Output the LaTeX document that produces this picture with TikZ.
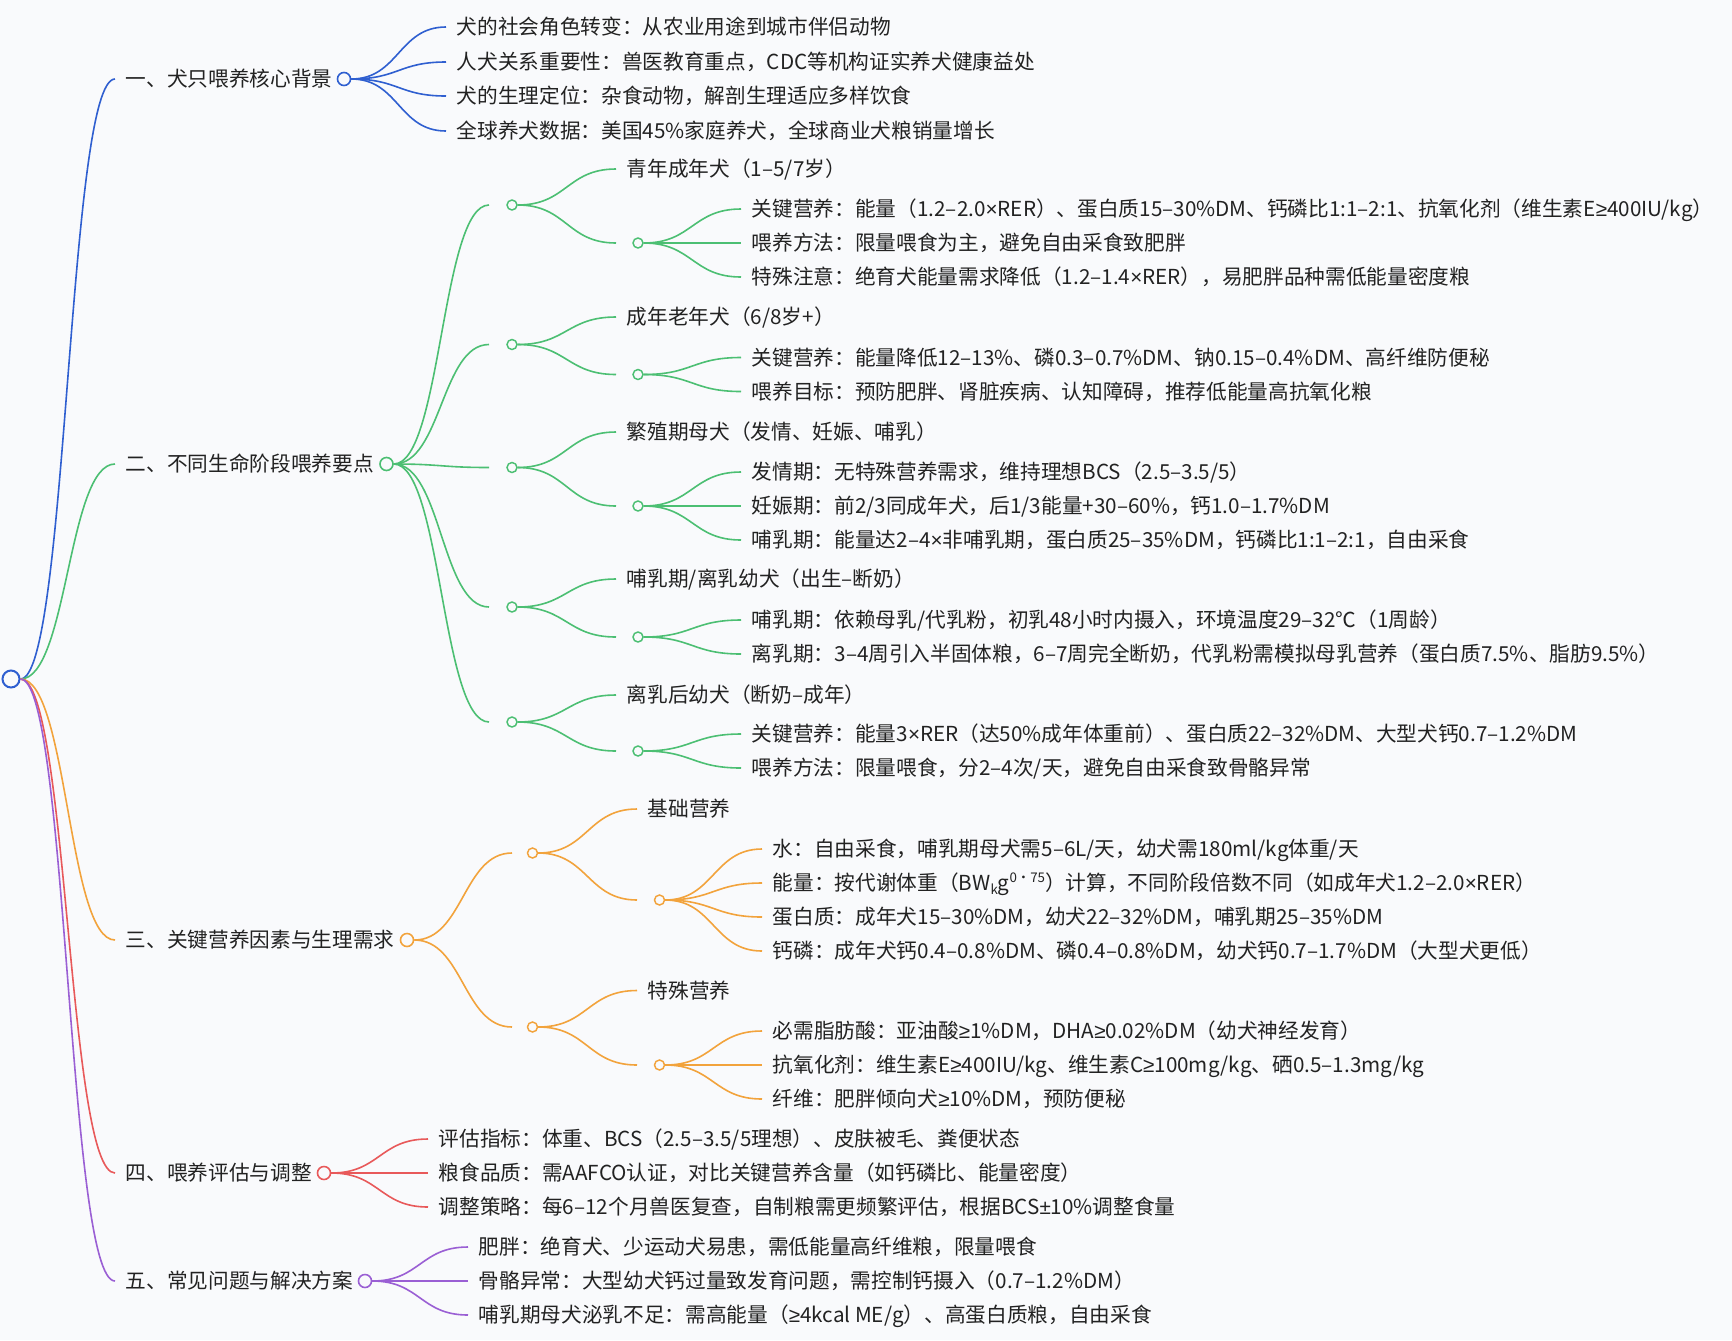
\documentclass[tikz,border=0pt]{standalone}
\usepackage{fontspec}
\setmainfont{Noto Sans CJK SC}
\newfontfamily\latf{Liberation Sans}
\usetikzlibrary{calc}
\definecolor{bgc}{HTML}{F9FAFC}
\definecolor{txc}{HTML}{222222}
\definecolor{cA}{HTML}{2F5FD0}
\definecolor{cB}{HTML}{4CBF73}
\definecolor{cC}{HTML}{F2A33C}
\definecolor{cD}{HTML}{E8595A}
\definecolor{cE}{HTML}{9A5FD4}
\newcommand\mmedge[3]{\draw[#1] let \p1=(#2), \p2=(#3), \p3=($(\p1)!0.5!(\p2)$) in (\p1) .. controls (\x3,\y1) and (\x3,\y2) .. (\p2);}
\newcommand\sml[1]{{\fontsize{10}{10}\selectfont #1}}
\newcommand\tms{{\latf ×}}
\newcommand\gee{{\latf ≥}}
\begin{document}
\begin{tikzpicture}[x=0.75pt,y=-0.75pt,
  lbl/.style={anchor=west, inner xsep=8pt, inner ysep=0pt, text=txc,
    font=\fontsize{15.5}{18}\selectfont, text height=13.6pt, text depth=1.9pt},
  rootdot/.style={circle, draw=cA, fill=bgc, line width=1.5pt, inner sep=0pt, minimum size=12.75pt},
  mdot/.style={circle, draw=#1, fill=bgc, line width=1.2pt, inner sep=0pt, minimum size=9.75pt},
  sdot/.style={circle, draw=#1, fill=bgc, line width=1.1pt, inner sep=0pt, minimum size=7.5pt},
  ln/.style={draw=#1, line width=1.2pt},
]
\useasboundingbox[fill=bgc] (0,0) rectangle (1732,1340);

\node[rootdot] (R) at (11,679) {};

% ---------- level 1 ----------
\node[lbl] (A) at (115,79) {一、犬只喂养核心背景};
\node[mdot=cA] (Ac) at (344,79) {};
\node[lbl] (B) at (115,464) {二、不同生命阶段喂养要点};
\node[mdot=cB] (Bc) at (386.5,464) {};
\node[lbl] (C) at (115,940) {三、关键营养因素与生理需求};
\node[mdot=cC] (Cc) at (407,940) {};
\node[lbl] (D) at (115,1173) {四、喂养评估与调整};
\node[mdot=cD] (Dc) at (324,1173) {};
\node[lbl] (E) at (115,1281) {五、常见问题与解决方案};
\node[mdot=cE] (Ec) at (365,1281) {};

% ---------- A leaves ----------
\node[lbl] (A1) at (446,27) {犬的社会角色转变：从农业用途到城市伴侣动物};
\node[lbl] (A2) at (446,62) {人犬关系重要性：兽医教育重点，CDC等机构证实养犬健康益处};
\node[lbl] (A3) at (446,96) {犬的生理定位：杂食动物，解剖生理适应多样饮食};
\node[lbl] (A4) at (446,131) {全球养犬数据：美国45\%家庭养犬，全球商业犬粮销量增长};

% ---------- B stages ----------
\coordinate (S1in) at (489,205); \node[sdot=cB] (S1) at (512,205) {};
\node[lbl] (S1t) at (616,169) {青年成年犬（1–5/7岁）};
\coordinate (S1sin) at (616,243); \node[sdot=cB] (S1s) at (638,243) {};
\node[lbl] (S1a) at (741,209) {关键营养：能量（1.2–2.0\tms RER）、蛋白质15–30\%DM、钙磷比1:1–2:1、抗氧化剂（维生素E\gee 400IU/kg）};
\node[lbl] (S1b) at (741,243) {喂养方法：限量喂食为主，避免自由采食致肥胖};
\node[lbl] (S1c) at (741,277) {特殊注意：绝育犬能量需求降低（1.2–1.4\tms RER），易肥胖品种需低能量密度粮};

\coordinate (S2in) at (489,344.5); \node[sdot=cB] (S2) at (512,344.5) {};
\node[lbl] (S2t) at (616,317) {成年老年犬（6/8岁+）};
\coordinate (S2sin) at (616,374.5); \node[sdot=cB] (S2s) at (638,374.5) {};
\node[lbl] (S2a) at (741,357.5) {关键营养：能量降低12–13\%、磷0.3–0.7\%DM、钠0.15–0.4\%DM、高纤维防便秘};
\node[lbl] (S2b) at (741,391.5) {喂养目标：预防肥胖、肾脏疾病、认知障碍，推荐低能量高抗氧化粮};

\coordinate (S3in) at (489,467.5); \node[sdot=cB] (S3) at (512,467.5) {};
\node[lbl] (S3t) at (616,432) {繁殖期母犬（发情、妊娠、哺乳）};
\coordinate (S3sin) at (616,506); \node[sdot=cB] (S3s) at (638,506) {};
\node[lbl] (S3a) at (741,472) {发情期：无特殊营养需求，维持理想BCS（2.5–3.5/5）};
\node[lbl] (S3b) at (741,506) {妊娠期：前2/3同成年犬，后1/3能量+30–60\%，钙1.0–1.7\%DM};
\node[lbl] (S3c) at (741,540) {哺乳期：能量达2–4\tms 非哺乳期，蛋白质25–35\%DM，钙磷比1:1–2:1，自由采食};

\coordinate (S4in) at (489,607); \node[sdot=cB] (S4) at (512,607) {};
\node[lbl] (S4t) at (616,579) {哺乳期/离乳幼犬（出生–断奶）};
\coordinate (S4sin) at (616,637); \node[sdot=cB] (S4s) at (638,637) {};
\node[lbl] (S4a) at (741,620) {哺乳期：依赖母乳/代乳粉，初乳48小时内摄入，环境温度29–32℃（1周龄）};
\node[lbl] (S4b) at (741,654) {离乳期：3–4周引入半固体粮，6–7周完全断奶，代乳粉需模拟母乳营养（蛋白质7.5\%、脂肪9.5\%）};

\coordinate (S5in) at (489,722); \node[sdot=cB] (S5) at (512,722) {};
\node[lbl] (S5t) at (616,695) {离乳后幼犬（断奶–成年）};
\coordinate (S5sin) at (616,751); \node[sdot=cB] (S5s) at (638,751) {};
\node[lbl] (S5a) at (741,734) {关键营养：能量3\tms RER（达50\%成年体重前）、蛋白质22–32\%DM、大型犬钙0.7–1.2\%DM};
\node[lbl] (S5b) at (741,768) {喂养方法：限量喂食，分2–4次/天，避免自由采食致骨骼异常};

% ---------- C groups ----------
\coordinate (G1in) at (512,853); \node[sdot=cC] (G1) at (532.5,853) {};
\node[lbl] (G1t) at (637,809) {基础营养};
\coordinate (G1sin) at (637,900); \node[sdot=cC] (G1s) at (659.5,900) {};
\node[lbl] (G1a) at (762,849) {水：自由采食，哺乳期母犬需5–6L/天，幼犬需180ml/kg体重/天};
\node[lbl] (G1b) at (762,883) {能量：按代谢体重（BW\raisebox{-0.3ex}{\sml{k}}g\raisebox{0.75ex}{\sml{0·75}}）计算，不同阶段倍数不同（如成年犬1.2–2.0\tms RER）};
\node[lbl] (G1c) at (762,917) {蛋白质：成年犬15–30\%DM，幼犬22–32\%DM，哺乳期25–35\%DM};
\node[lbl] (G1d) at (762,951) {钙磷：成年犬钙0.4–0.8\%DM、磷0.4–0.8\%DM，幼犬钙0.7–1.7\%DM（大型犬更低）};

\coordinate (G2in) at (512,1027); \node[sdot=cC] (G2) at (532.5,1027) {};
\node[lbl] (G2t) at (637,990.5) {特殊营养};
\coordinate (G2sin) at (637,1065); \node[sdot=cC] (G2s) at (659.5,1065) {};
\node[lbl] (G2a) at (762,1031) {必需脂肪酸：亚油酸\gee 1\%DM，DHA\gee 0.02\%DM（幼犬神经发育）};
\node[lbl] (G2b) at (762,1065) {抗氧化剂：维生素E\gee 400IU/kg、维生素C\gee 100mg/kg、硒0.5–1.3mg/kg};
\node[lbl] (G2c) at (762,1099) {纤维：肥胖倾向犬\gee 10\%DM，预防便秘};

% ---------- D leaves ----------
\node[lbl] (D1) at (428,1139) {评估指标：体重、BCS（2.5–3.5/5理想）、皮肤被毛、粪便状态};
\node[lbl] (D2) at (428,1173) {粮食品质：需AAFCO认证，对比关键营养含量（如钙磷比、能量密度）};
\node[lbl] (D3) at (428,1207) {调整策略：每6–12个月兽医复查，自制粮需更频繁评估，根据BCS{\latf ±}10\%调整食量};

% ---------- E leaves ----------
\node[lbl] (E1) at (468,1247) {肥胖：绝育犬、少运动犬易患，需低能量高纤维粮，限量喂食};
\node[lbl] (E2) at (468,1281) {骨骼异常：大型幼犬钙过量致发育问题，需控制钙摄入（0.7–1.2\%DM）};
\node[lbl] (E3) at (468,1315) {哺乳期母犬泌乳不足：需高能量（\gee 4kcal ME/g）、高蛋白质粮，自由采食};

% ---------- connectors ----------
\mmedge{ln=cA}{R.east}{A.west}
\mmedge{ln=cB}{R.east}{B.west}
\mmedge{ln=cC}{R.east}{C.west}
\mmedge{ln=cD}{R.east}{D.west}
\mmedge{ln=cE}{R.east}{E.west}

\foreach \nm in {A1,A2,A3,A4} {\mmedge{ln=cA}{Ac.east}{\nm.west}}
\foreach \nm in {S1in,S2in,S3in,S4in,S5in} {\mmedge{ln=cB}{Bc.east}{\nm}}
\foreach \st in {S1,S2,S3,S4,S5} {
  \mmedge{ln=cB}{\st.east}{\st t.west}
  \mmedge{ln=cB}{\st.east}{\st sin}
}
\foreach \nm in {S1a,S1b,S1c} {\mmedge{ln=cB}{S1s.east}{\nm.west}}
\foreach \nm in {S2a,S2b} {\mmedge{ln=cB}{S2s.east}{\nm.west}}
\foreach \nm in {S3a,S3b,S3c} {\mmedge{ln=cB}{S3s.east}{\nm.west}}
\foreach \nm in {S4a,S4b} {\mmedge{ln=cB}{S4s.east}{\nm.west}}
\foreach \nm in {S5a,S5b} {\mmedge{ln=cB}{S5s.east}{\nm.west}}

\foreach \nm in {G1in,G2in} {\mmedge{ln=cC}{Cc.east}{\nm}}
\foreach \st in {G1,G2} {
  \mmedge{ln=cC}{\st.east}{\st t.west}
  \mmedge{ln=cC}{\st.east}{\st sin}
}
\foreach \nm in {G1a,G1b,G1c,G1d} {\mmedge{ln=cC}{G1s.east}{\nm.west}}
\foreach \nm in {G2a,G2b,G2c} {\mmedge{ln=cC}{G2s.east}{\nm.west}}

\foreach \nm in {D1,D2,D3} {\mmedge{ln=cD}{Dc.east}{\nm.west}}
\foreach \nm in {E1,E2,E3} {\mmedge{ln=cE}{Ec.east}{\nm.west}}
\end{tikzpicture}
\end{document}
